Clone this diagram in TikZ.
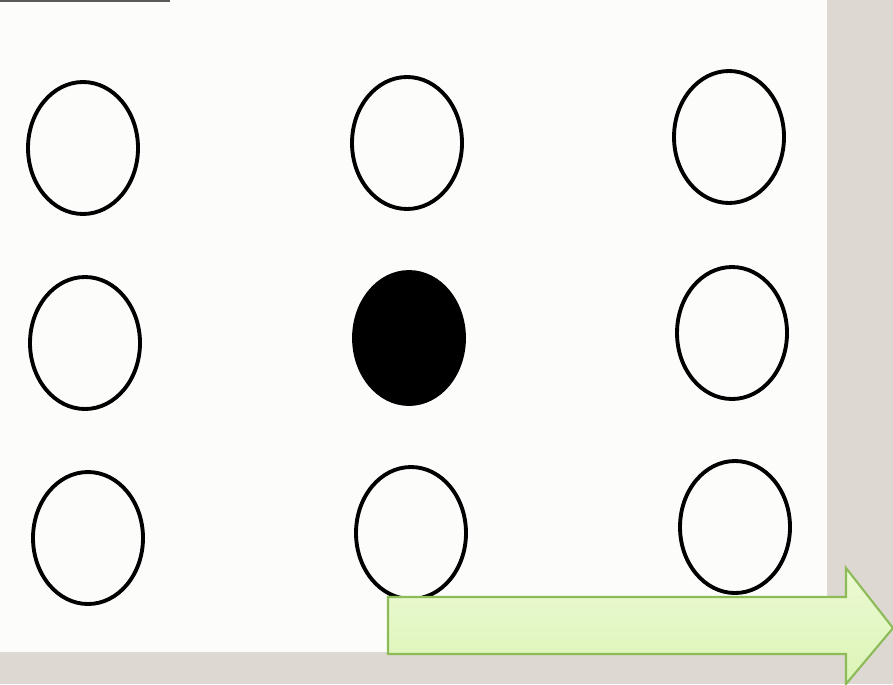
\documentclass[tikz,border=0pt]{standalone}
\usepackage{tikz}
\usetikzlibrary{positioning, shapes.geometric}
\definecolor{bgPhoto}{HTML}{DDD8D1}
\definecolor{bgPaper}{HTML}{FCFCFB}
\definecolor{stripDark}{HTML}{5A5A5A}
\definecolor{arrowTop}{HTML}{EBFAD3}
\definecolor{arrowBottom}{HTML}{DCF4B6}
\definecolor{arrowBorder}{HTML}{8DBB58}
\tikzset{
  dot/.style={ellipse, draw=black, line width=1.1pt, fill=none,
    minimum width=1.1cm, minimum height=1.32cm, inner sep=0pt},
  fulldot/.style={dot, fill=black},
  bigarrow/.style={draw=arrowBorder, line width=0.6pt,
    top color=arrowTop, bottom color=arrowBottom},
}
\begin{document}
\begin{tikzpicture}

  % === Background photo and paper sheet ===
  \fill[bgPhoto] (0,0) rectangle (8.93,-6.84);
  \useasboundingbox (0,0) rectangle (8.93,-6.84);
  \fill[bgPaper] (0,0) rectangle (8.27,-6.52);
  \fill[stripDark] (0,0) rectangle (1.7,-0.025);

  % === Top row ===
  \node[dot] (tl) at (0.83,-1.48) {};
  \node[dot] (tm) at (4.07,-1.43) {};
  \node[dot] (tr) at (7.29,-1.37) {};

  % === Middle row ===
  \node[dot] (ml) at (0.85,-3.43) {};
  \node[fulldot] (mm) at (4.09,-3.38) {};
  \node[dot] (mr) at (7.32,-3.33) {};

  % === Bottom row ===
  \node[dot] (bl) at (0.88,-5.38) {};
  \node[dot] (bm) at (4.11,-5.33) {};
  \node[dot] (br) at (7.35,-5.27) {};

  % === Green arrow ===
  \coordinate (tip) at (8.93,-6.28);
  \draw[bigarrow]
    (3.88,-5.97) -- (8.46,-5.97) -- (8.46,-5.68) -- (tip)
    -- (8.46,-6.84) -- (8.46,-6.54) -- (3.88,-6.54) -- cycle;

\end{tikzpicture}
\end{document}
